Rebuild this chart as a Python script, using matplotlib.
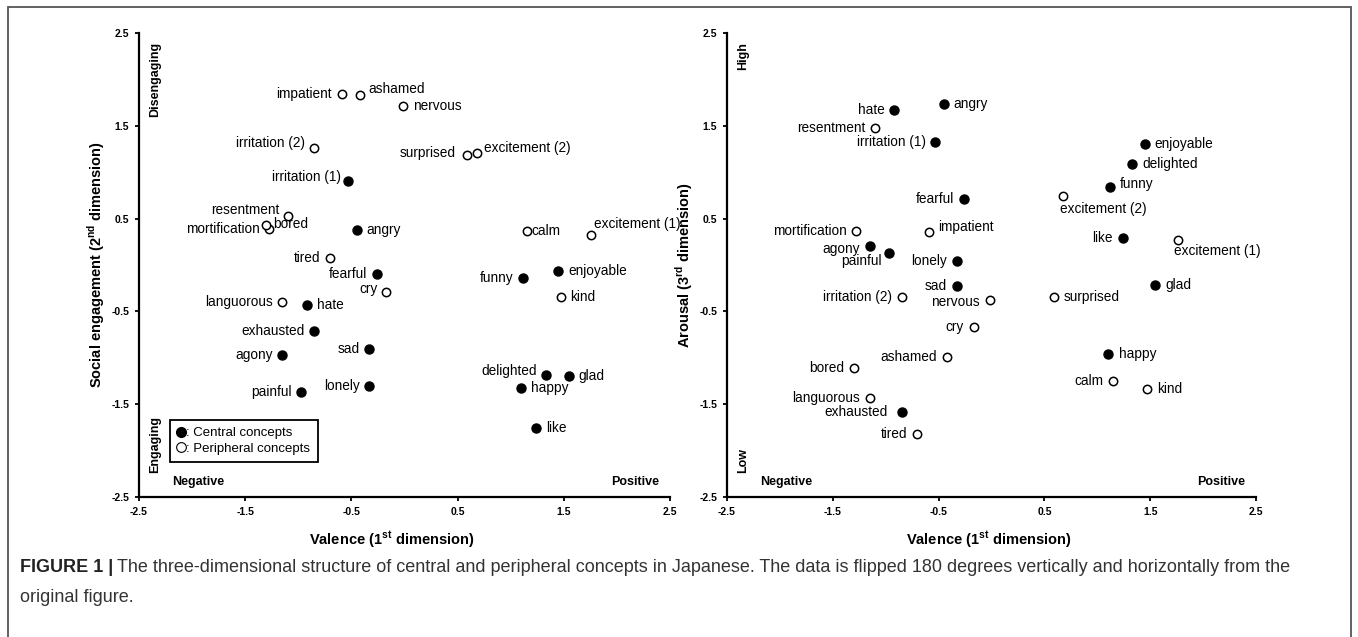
import numpy as np
import matplotlib.pyplot as plt
from matplotlib.lines import Line2D
from matplotlib.patches import Rectangle

plt.rcParams['font.family'] = ['Liberation Sans', 'DejaVu Sans']
plt.rcParams['mathtext.fontset'] = 'custom'
plt.rcParams['mathtext.rm'] = 'Liberation Sans'
plt.rcParams['mathtext.bf'] = 'Liberation Sans:bold'

# concepts, valence (dim 1), social engagement (dim 2), arousal (dim 3)
words = ['impatient', 'ashamed', 'nervous', 'irritation (2)', 'surprised',
         'excitement (2)', 'irritation (1)', 'resentment', 'mortification', 'bored',
         'angry', 'calm', 'excitement (1)', 'tired', 'fearful',
         'funny', 'enjoyable', 'cry', 'kind', 'languorous',
         'hate', 'exhausted', 'sad', 'agony', 'delighted',
         'glad', 'happy', 'lonely', 'painful', 'like']
valence = [-0.59, -0.42, -0.01, -0.85, 0.59,
           0.68, -0.53, -1.10, -1.28, -1.30,
           -0.45, 1.15, 1.76, -0.70, -0.26,
           1.12, 1.45, -0.17, 1.47, -1.15,
           -0.92, -0.85, -0.33, -1.15, 1.33,
           1.55, 1.10, -0.33, -0.97, 1.24]
social = [1.84, 1.83, 1.71, 1.26, 1.18,
          1.21, 0.90, 0.53, 0.39, 0.43,
          0.38, 0.37, 0.32, 0.08, -0.10,
          -0.14, -0.07, -0.29, -0.34, -0.40,
          -0.43, -0.71, -0.91, -0.97, -1.18,
          -1.20, -1.33, -1.30, -1.37, -1.76]
arousal = [0.36, -0.99, -0.38, -0.35, -0.34,
           0.74, 1.33, 1.48, 0.37, -1.11,
           1.73, -1.25, 0.27, -1.82, 0.71,
           0.84, 1.30, -0.67, -1.34, -1.43,
           1.67, -1.58, -0.23, 0.20, 1.09,
           -0.22, -0.96, 0.04, 0.13, 0.29]
central = ['irritation (1)', 'angry', 'fearful', 'funny', 'enjoyable', 'hate',
           'exhausted', 'sad', 'agony', 'delighted', 'glad', 'happy', 'lonely',
           'painful', 'like']
ticks = [-2.5, -1.5, -0.5, 0.5, 1.5, 2.5]

# label placement: (dx, dy, ha) in points
L = (-7, 0, 'right')
R = (7, 0, 'left')
place_left = {w: L for w in words}
place_left.update({
    'ashamed': (6, 4.5, 'left'), 'nervous': R, 'irritation (2)': (-7, 3.5, 'right'),
    'surprised': (-8, 1.5, 'right'), 'excitement (2)': (5, 3.5, 'left'),
    'irritation (1)': (-5.5, 3, 'right'), 'resentment': (-6, 4, 'right'),
    'bored': (5, 1, 'left'), 'angry': R, 'calm': (3.5, 0, 'left'),
    'excitement (1)': (2, 8, 'left'), 'enjoyable': R, 'kind': R, 'hate': R,
    'glad': R, 'happy': R, 'like': R, 'cry': (-6.5, 2, 'right'),
    'delighted': (-6.5, 2.5, 'right'), 'mortification': (-6.5, 0, 'right')})
place_right = {w: L for w in words}
place_right.update({
    'angry': R, 'enjoyable': R, 'delighted': R, 'funny': (7, 2, 'left'),
    'excitement (2)': (-2.5, -9, 'left'), 'impatient': (6.5, 3.5, 'left'),
    'excitement (1)': (-3, -8, 'left'), 'painful': (-5, -6, 'right'),
    'glad': R, 'surprised': R, 'happy': (8, 0, 'left'), 'kind': R,
    'agony': (-7, -1.5, 'right'), 'exhausted': (-10, 0, 'right'),
    'nervous': (-8, -1.5, 'right')})

fig = plt.figure(figsize=(13.58, 6.37), dpi=100)
fig.patches.append(Rectangle((8 / 1358, -0.05), 1343 / 1358, 1.05 - 7 / 637,
                             transform=fig.transFigure, fill=False,
                             edgecolor='#555555', linewidth=1.3))

ax1 = fig.add_axes([139 / 1358, 1 - 497 / 637, 531 / 1358, 464 / 637])
ax2 = fig.add_axes([727 / 1358, 1 - 497 / 637, 529 / 1358, 464 / 637])

bold = dict(family='Liberation Sans', weight='bold')

panels = [(ax1, social, place_left, r'Social engagement (2$^{\mathbf{nd}}$ dimension)',
           'Disengaging', 'Engaging'),
          (ax2, arousal, place_right, r'Arousal (3$^{\mathbf{rd}}$ dimension)',
           'High', 'Low')]

for ax, yvals, place, ylab, top_txt, bot_txt in panels:
    for w, x, y in zip(words, valence, yvals):
        if w in central:
            ax.plot(x, y, 'o', color='black', ms=6.5, zorder=3)
        else:
            ax.plot(x, y, 'o', mfc='white', mec='black', mew=1.1, ms=6, zorder=3)
        dx, dy, ha = place[w]
        ax.annotate(w, (x, y), xytext=(dx, dy), textcoords='offset points',
                    ha=ha, va='center', fontsize=9.8)

    ax.set_xlim(-2.5, 2.5)
    ax.set_ylim(-2.5, 2.5)
    ax.set_xticks(ticks)
    ax.set_yticks(ticks)
    ax.set_xticklabels([str(t) for t in ticks])
    ax.set_yticklabels([str(t) for t in ticks])
    for lab in ax.get_xticklabels() + ax.get_yticklabels():
        lab.set_fontweight('bold')
        lab.set_fontsize(7.5)
    ax.tick_params(direction='out', length=3, width=1.3, pad=4)
    for s in ['top', 'right']:
        ax.spines[s].set_visible(False)
    for s in ['left', 'bottom']:
        ax.spines[s].set_linewidth(1.6)

    ax.set_xlabel(r'Valence (1$^{\mathbf{st}}$ dimension)', fontsize=10.5, **bold)
    ax.set_ylabel(ylab, fontsize=10.5, **bold)
    ax.yaxis.set_label_coords(-0.060, 0.5)

    ax.text(0.03, 0.98, top_txt, transform=ax.transAxes, rotation=90,
            ha='center', va='top', fontsize=9, **bold)
    ax.text(0.03, 0.052, bot_txt, transform=ax.transAxes, rotation=90,
            ha='center', va='bottom', fontsize=9, **bold)
    ax.text(0.062, 0.032, 'Negative', transform=ax.transAxes,
            ha='left', va='center', fontsize=9, **bold)
    ax.text(0.98, 0.032, 'Positive', transform=ax.transAxes,
            ha='right', va='center', fontsize=9, **bold)

ax1.xaxis.set_label_coords(0.475, -0.071)
ax2.xaxis.set_label_coords(0.495, -0.071)

handles = [Line2D([], [], marker='o', ls='', color='black', ms=7),
           Line2D([], [], marker='o', ls='', mfc='white', mec='black', mew=0.8, ms=7)]
leg = ax1.legend(handles, [': Central concepts', ': Peripheral concepts'],
                 loc='upper left', bbox_to_anchor=(0.058, 0.166), borderaxespad=0,
                 handlelength=0.6, handletextpad=0.1, fontsize=9.5,
                 fancybox=False, edgecolor='black', framealpha=1,
                 borderpad=0.55, labelspacing=0.25)
leg.get_frame().set_linewidth(1.3)

# caption
cap_y1 = 1 - 567 / 637
cap_y2 = 1 - 598 / 637
t1 = fig.text(20 / 1358, cap_y1, 'FIGURE 1 |', fontsize=13, va='center',
              color='#222222', **bold)
fig.canvas.draw()
bb = t1.get_window_extent()
fig.text((bb.x1 + 4) / 1358, cap_y1,
         'The three-dimensional structure of central and peripheral concepts in '
         'Japanese. The data is flipped 180 degrees vertically and horizontally from the',
         fontsize=13, va='center', family='Liberation Sans', color='#333333')
fig.text(20 / 1358, cap_y2, 'original figure.', fontsize=13, va='center',
         family='Liberation Sans', color='#333333')

plt.savefig('out.png', dpi=100)
